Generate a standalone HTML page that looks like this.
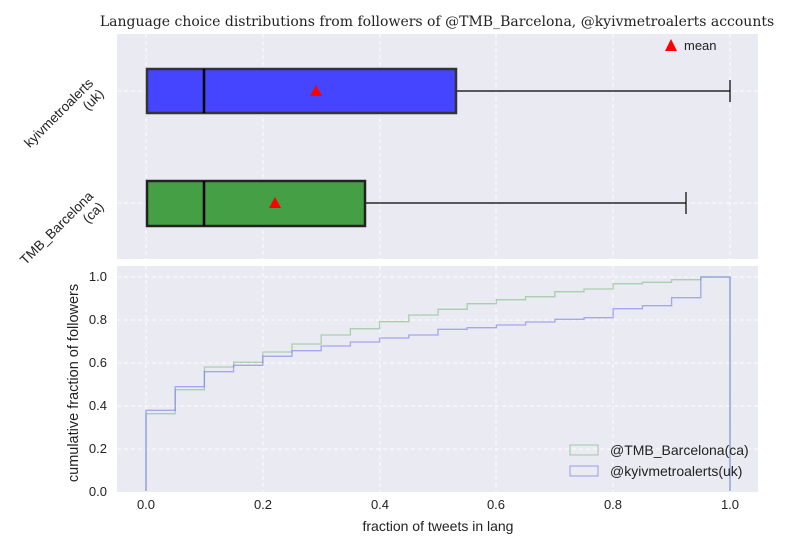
<!DOCTYPE html>
<html><head><meta charset="utf-8"><style>body{margin:0;background:#fff}svg{display:block}text{font-family:"Liberation Sans",sans-serif;fill:#222}</style></head><body>
<svg width="800" height="550" xmlns="http://www.w3.org/2000/svg">
<rect width="800" height="550" fill="#fff"/>
<text x="437" y="26" text-anchor="middle" style="font-family:'DejaVu Serif',serif;font-size:14px">Language choice distributions from followers of @TMB_Barcelona, @kyivmetroalerts accounts</text>
<!-- top panel -->
<rect x="117" y="34" width="641" height="225" fill="#eaeaf2"/>
<g stroke="#fff" stroke-dasharray="4,3" stroke-width="1">
<line x1="146" y1="34" x2="146" y2="259"/><line x1="263" y1="34" x2="263" y2="259"/><line x1="380" y1="34" x2="380" y2="259"/><line x1="496" y1="34" x2="496" y2="259"/><line x1="613" y1="34" x2="613" y2="259"/><line x1="730" y1="34" x2="730" y2="259"/>
<line x1="117" y1="91" x2="758" y2="91"/><line x1="117" y1="203" x2="758" y2="203"/>
</g>
<g stroke="#000" stroke-width="1.2">
<line x1="456" y1="91" x2="730" y2="91"/><line x1="730" y1="80" x2="730" y2="102"/>
<line x1="365" y1="203" x2="686" y2="203"/><line x1="686" y1="192" x2="686" y2="214"/>
</g>
<rect x="147" y="69" width="309" height="44" fill="#4545ff" stroke="#333" stroke-width="2.5"/>
<rect x="147" y="181" width="218" height="45" fill="#45a045" stroke="#222" stroke-width="2.5"/>
<g stroke="#000" stroke-width="2.5"><line x1="204" y1="69" x2="204" y2="113"/><line x1="204" y1="181" x2="204" y2="226"/></g>
<polygon points="316,85 322,96 310,96" fill="#f00"/>
<polygon points="275,197 281,208 269,208" fill="#f00"/>
<polygon points="671,39 677,51 665,51" fill="#f00"/>
<text x="684" y="50" style="font-size:13px">mean</text>
<g transform="translate(94,84) rotate(-45)" style="font-size:13.5px" text-anchor="end"><text x="0" y="0">kyivmetroalerts</text><text x="0" y="15">(uk)</text></g>
<g transform="translate(94,197) rotate(-45)" style="font-size:13.5px" text-anchor="end"><text x="0" y="0">TMB_Barcelona</text><text x="0" y="15">(ca)</text></g>
<!-- bottom panel -->
<rect x="117" y="266" width="641" height="226" fill="#eaeaf2"/>
<g stroke="#fff" stroke-dasharray="4,3" stroke-width="1">
<line x1="146" y1="266" x2="146" y2="492"/><line x1="263" y1="266" x2="263" y2="492"/><line x1="380" y1="266" x2="380" y2="492"/><line x1="496" y1="266" x2="496" y2="492"/><line x1="613" y1="266" x2="613" y2="492"/><line x1="730" y1="266" x2="730" y2="492"/>
<line x1="117" y1="277" x2="758" y2="277"/><line x1="117" y1="320" x2="758" y2="320"/><line x1="117" y1="363" x2="758" y2="363"/><line x1="117" y1="406" x2="758" y2="406"/><line x1="117" y1="449" x2="758" y2="449"/>
</g>
<path fill="none" stroke="#80bb80" stroke-opacity="0.6" stroke-width="1.3" d="M146,491 V413.7 H175.2 V389.7 H204.4 V367 H233.6 V362.3 H262.8 V352 H292 V344 H321.2 V335 H350.4 V328.7 H379.6 V321.7 H408.8 V315 H438 V309.3 H467.2 V303.7 H496.4 V299.7 H525.6 V296.7 H554.8 V291.7 H584 V289 H613.2 V283.7 H642.4 V282.3 H671.6 V279.7 H700.8 V277 H730 V491"/>
<path fill="none" stroke="#7777ee" stroke-opacity="0.6" stroke-width="1.3" d="M146,491 V410.3 H175.2 V386.7 H204.4 V371.7 H233.6 V365.3 H262.8 V356.3 H292 V350.7 H321.2 V346 H350.4 V342 H379.6 V338 H408.8 V335 H438 V329.3 H467.2 V327.7 H496.4 V325 H525.6 V322 H554.8 V319.3 H584 V317.7 H613.2 V308.7 H642.4 V305.7 H671.6 V297.7 H700.8 V277 H730 V491"/>
<rect x="570" y="445" width="28" height="10" fill="none" stroke="#80bb80" stroke-opacity="0.7"/>
<rect x="570" y="466" width="28" height="10" fill="none" stroke="#7777ee" stroke-opacity="0.7"/>
<text x="610" y="455" style="font-size:14px">@TMB_Barcelona(ca)</text>
<text x="610" y="476" style="font-size:14px">@kyivmetroalerts(uk)</text>
<g style="font-size:13px" text-anchor="end">
<text x="107" y="281">1.0</text><text x="107" y="324">0.8</text><text x="107" y="367">0.6</text><text x="107" y="410">0.4</text><text x="107" y="453">0.2</text><text x="107" y="496">0.0</text>
</g>
<g style="font-size:13px" text-anchor="middle">
<text x="146" y="509">0.0</text><text x="263" y="509">0.2</text><text x="380" y="509">0.4</text><text x="496" y="509">0.6</text><text x="613" y="509">0.8</text><text x="730" y="509">1.0</text>
</g>
<text x="438" y="531" text-anchor="middle" style="font-size:14px">fraction of tweets in lang</text>
<text transform="translate(78,383) rotate(-90)" text-anchor="middle" style="font-size:14.5px">cumulative fraction of followers</text>
</svg>
</body></html>
